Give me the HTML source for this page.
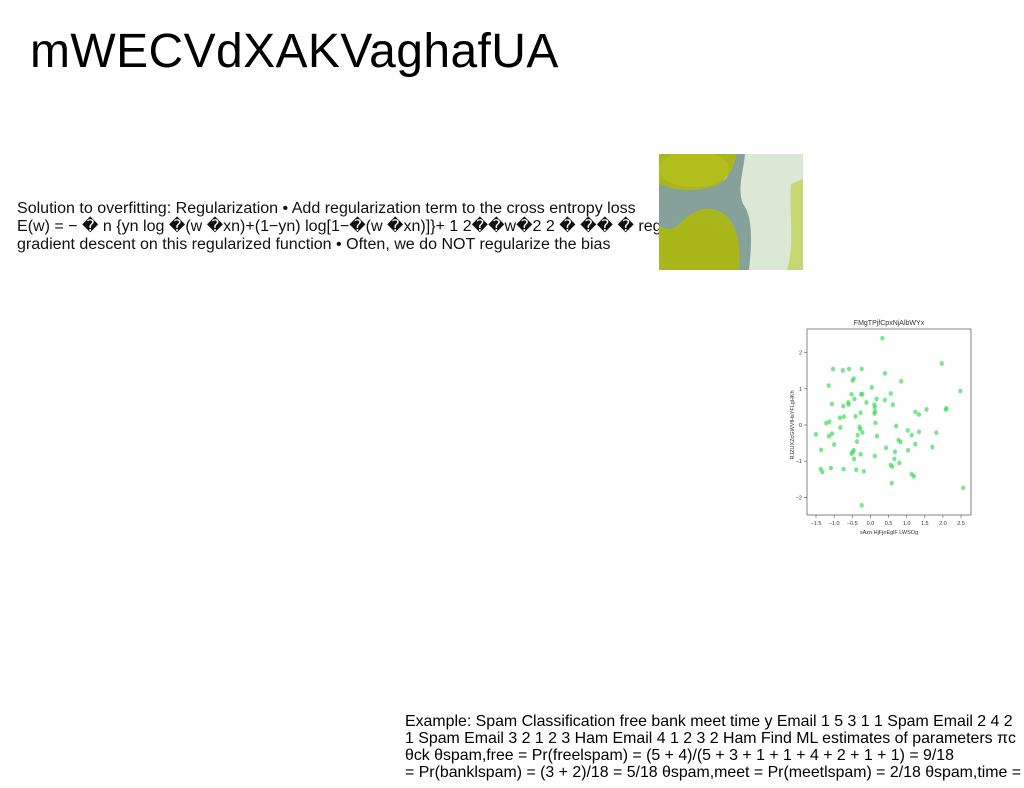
<!DOCTYPE html>
<html><head><meta charset="utf-8"><style>
html,body{margin:0;padding:0;background:#fff;}
body{width:1024px;height:788px;position:relative;overflow:hidden;font-family:"Liberation Sans",sans-serif;}
.abs{position:absolute;}
#title{left:30px;top:24px;font-size:48px;letter-spacing:0.4px;color:#000;white-space:nowrap;}
#para{left:17px;top:199px;font-size:16.05px;line-height:18px;color:#111;white-space:nowrap;}
#bottom{left:405px;top:713px;font-size:15.9px;line-height:17px;color:#000;white-space:nowrap;}
</style></head><body>
<div id="title" class="abs">mWECVdXAKVaghafUA</div>
<div id="para" class="abs">Solution to overfitting: Regularization • Add regularization term to the cross entropy loss<br>E(w) = − � n {yn log �(w �xn)+(1−yn) log[1−�(w �xn)]}+ 1 2��w�2 2 � �� � regularization •<br>gradient descent on this regularized function • Often, we do NOT regularize the bias</div>
<svg class="abs" style="left:659px;top:154px" width="144" height="116">
<rect width="144" height="116" fill="#a9b71c"/>
<path d="M80,0 L144,0 L144,116 L85,116 C80,90 90,70 75,55 C60,45 55,35 70,20 Z" fill="#dbe8d4"/>
<path d="M0,30 C20,38 40,38 60,30 C70,25 75,10 78,0 L86,0 C84,20 78,35 84,50 C92,60 94,80 90,116 L80,116 C82,90 78,70 65,60 C50,50 35,55 20,70 C12,78 8,75 0,72 Z" fill="#86a09a"/>
<ellipse cx="35" cy="15" rx="35" ry="18" fill="#b3bf1c"/>
<ellipse cx="40" cy="95" rx="40" ry="25" fill="#a9b619"/>
<path d="M132,30 L144,25 L144,116 L128,116 C136,90 130,60 132,30Z" fill="#c6d670"/>
</svg>
<svg class="abs" style="left:780px;top:310px" width="200" height="235" id="chart"></svg>
<div id="bottom" class="abs">Example: Spam Classification free bank meet time y Email 1 5 3 1 1 Spam Email 2 4 2<br>1 Spam Email 3 2 1 2 3 Ham Email 4 1 2 3 2 Ham Find ML estimates of parameters πc<br>θck θspam,free = Pr(freelspam) = (5 + 4)/(5 + 3 + 1 + 1 + 4 + 2 + 1 + 1) = 9/18<br>= Pr(banklspam) = (3 + 2)/18 = 5/18 θspam,meet = Pr(meetlspam) = 2/18 θspam,time =</div>
<script>
const xs=[0.33,-1.03,-0.76,-0.59,-0.24,0.40,-0.46,-0.49,0.85,-1.15,1.97,2.48,0.04,-0.52,-0.26,-0.22,-0.44,0.17,0.56,0.40,-1.06,-0.60,-0.61,-0.11,0.11,0.12,0.62,-0.75,0.13,0.11,-0.27,-0.41,-0.73,-0.84,1.24,1.34,1.55,2.08,2.10,-1.22,-1.13,-0.83,0.14,0.71,-0.30,-0.28,-0.22,-0.35,-1.50,-1.06,-1.14,0.18,1.03,1.14,1.34,1.82,0.78,0.83,-1.00,-0.37,1.24,1.71,0.43,-1.36,-0.46,-0.49,-0.52,-0.27,0.68,1.04,0.12,-0.45,0.66,0.80,0.56,0.60,-1.37,-1.33,-1.09,-0.74,-0.39,-0.18,1.14,1.20,0.59,2.56,-0.24];
const ys=[2.40,1.55,1.51,1.55,1.55,1.43,1.28,1.23,1.21,1.09,1.70,0.94,1.04,0.85,0.85,0.85,0.72,0.72,0.87,0.69,0.58,0.57,0.62,0.62,0.56,0.49,0.56,0.52,0.37,0.32,0.34,0.24,0.23,0.20,0.36,0.29,0.43,0.43,0.46,0.05,0.09,-0.07,0.06,-0.03,-0.05,-0.11,-0.21,-0.28,-0.26,-0.24,-0.31,-0.31,-0.15,-0.28,-0.19,-0.21,-0.42,-0.47,-0.54,-0.46,-0.53,-0.61,-0.63,-0.69,-0.70,-0.75,-0.79,-0.81,-0.74,-0.70,-0.86,-0.94,-0.94,-1.05,-1.11,-1.15,-1.22,-1.30,-1.19,-1.22,-1.24,-1.28,-1.36,-1.42,-1.61,-1.74,-2.22];
const xTicks=[-1.5,-1.0,-0.5,0.0,0.5,1.0,1.5,2.0,2.5];
const yTicks=[-2,-1,0,1,2];
const NS="http://www.w3.org/2000/svg";
const svg=document.getElementById('chart');
const X=v=>90.4+v*36.25, Y=v=>115+(-v)*36.15;
function mk(t,a){const e=document.createElementNS(NS,t);for(const k in a)e.setAttribute(k,a[k]);svg.appendChild(e);return e;}
const fr=mk('rect',{x:27,y:19,width:164,height:186,fill:'none',stroke:'#666','stroke-width':0.8});


const tt=mk('text',{x:109,y:15,'font-size':7,'text-anchor':'middle',fill:'#333','font-family':'Liberation Sans'});
tt.textContent='FMgTPjfCpxNjAlbWYx';


xTicks.forEach(v=>{
 mk('line',{x1:X(v),x2:X(v),y1:205,y2:208,stroke:'#555','stroke-width':0.6});
 const t=mk('text',{x:X(v),y:215,'font-size':5.5,'text-anchor':'middle',fill:'#333','font-family':'Liberation Sans'});
 t.textContent=v.toFixed(1).replace('-','−');
 
 
});
yTicks.forEach(v=>{
 mk('line',{x1:24,x2:27,y1:Y(v),y2:Y(v),stroke:'#555','stroke-width':0.6});
 const t=mk('text',{x:22,y:Y(v)+2,'font-size':5.5,'text-anchor':'end',fill:'#333','font-family':'Liberation Sans'});
 t.textContent=String(v).replace('-','−');
 
 
});
const xl=mk('text',{x:109,y:224,'font-size':5.5,'text-anchor':'middle',fill:'#333','font-family':'Liberation Sans'});
xl.textContent='sAzn HjFjnEglF LWSOg';


const yl=mk('text',{x:0,y:0,'font-size':5.5,'text-anchor':'middle',fill:'#333','font-family':'Liberation Sans',transform:'translate(14,115) rotate(-90)'});
yl.textContent='RJZUXZcGWVfHsYFLgHKh';


xs.forEach((v,i)=>{
 const c=mk('ellipse',{cx:X(v),cy:Y(ys[i]),rx:2.1,ry:2.4,fill:'#3ddc5c','fill-opacity':0.7});
 
 
});
</script>
</body></html>
